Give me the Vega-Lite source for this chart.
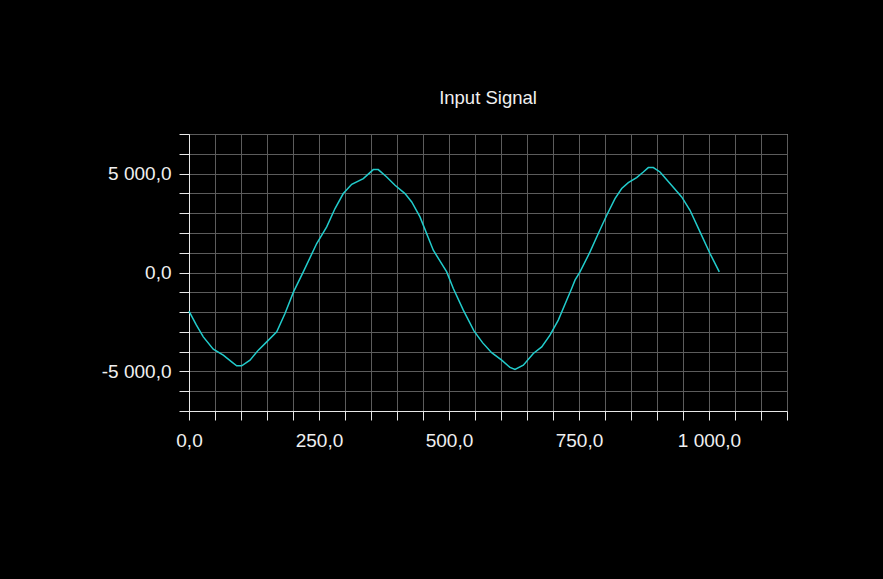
{
  "$schema": "https://vega.github.io/schema/vega-lite/v6.json",
  "width": 598,
  "height": 277,
  "autosize": "none",
  "padding": {"left": 189, "top": 134, "right": 96, "bottom": 168},
  "background": "#000000",
  "title": {"text": "Input Signal", "color": "#f0f0f0", "font": "Liberation Sans", "fontSize": 18.5, "fontWeight": "normal", "anchor": "middle", "frame": "group", "baseline": "alphabetic", "offset": 3},
  "config": {
    "locale": {"number": {"decimal": ",", "thousands": " ", "grouping": [3], "currency": ["", ""], "minus": "-"}},
    "view": {"stroke": "#e8e8e8", "strokeWidth": 1}
  },
  "data": {"values": [
    {"x": 0, "y": -1955}, {"x": 14, "y": -2650}, {"x": 27.5, "y": -3253}, {"x": 46.7, "y": -3874}, {"x": 65.9, "y": -4177},
    {"x": 82, "y": -4515}, {"x": 91.7, "y": -4717}, {"x": 101.3, "y": -4717}, {"x": 117.3, "y": -4429}, {"x": 133.3, "y": -3924},
    {"x": 149.4, "y": -3505}, {"x": 168.7, "y": -3000}, {"x": 184.6, "y": -2071}, {"x": 201, "y": -980}, {"x": 219.8, "y": 30},
    {"x": 245.6, "y": 1465}, {"x": 264.8, "y": 2303}, {"x": 280.8, "y": 3232}, {"x": 296.7, "y": 3990}, {"x": 312.9, "y": 4455},
    {"x": 335.2, "y": 4747}, {"x": 354.4, "y": 5202}, {"x": 364, "y": 5202}, {"x": 380.2, "y": 4828}, {"x": 396.2, "y": 4409},
    {"x": 415.4, "y": 3990}, {"x": 428.3, "y": 3566}, {"x": 444.2, "y": 2808}, {"x": 469.8, "y": 1126}, {"x": 495.6, "y": 30},
    {"x": 508.3, "y": -808}, {"x": 527.5, "y": -1904}, {"x": 548, "y": -2950}, {"x": 564.5, "y": -3545}, {"x": 582, "y": -4050},
    {"x": 601.3, "y": -4429}, {"x": 617.3, "y": -4798}, {"x": 626.9, "y": -4899}, {"x": 642.9, "y": -4682}, {"x": 662.1, "y": -4091},
    {"x": 678.3, "y": -3758}, {"x": 694.2, "y": -3167}, {"x": 710.2, "y": -2409}, {"x": 726.3, "y": -1399}, {"x": 735.9, "y": -808},
    {"x": 742.3, "y": -389}, {"x": 751.9, "y": 30}, {"x": 771.2, "y": 1040}, {"x": 787.1, "y": 1970}, {"x": 803.3, "y": 2894},
    {"x": 819.2, "y": 3737}, {"x": 832.1, "y": 4242}, {"x": 844.8, "y": 4545}, {"x": 860.9, "y": 4798}, {"x": 873.7, "y": 5081},
    {"x": 883.3, "y": 5303}, {"x": 892.9, "y": 5303}, {"x": 905.8, "y": 5081}, {"x": 925, "y": 4495}, {"x": 947.5, "y": 3818},
    {"x": 963.5, "y": 3146}, {"x": 982.7, "y": 2051}, {"x": 1001.9, "y": 960}, {"x": 1019.8, "y": 30}
  ]},
  "mark": {"type": "line", "color": "#22cccc", "strokeWidth": 1.5, "interpolate": "linear"},
  "encoding": {
    "x": {
      "field": "x", "type": "quantitative",
      "scale": {"domain": [0, 1150], "nice": false, "zero": false},
      "axis": {
        "title": null,
        "values": [0, 50, 100, 150, 200, 250, 300, 350, 400, 450, 500, 550, 600, 650, 700, 750, 800, 850, 900, 950, 1000, 1050, 1100, 1150],
        "labelExpr": "(datum.value % 250 === 0 && datum.value <= 1000) ? format(datum.value, ',.1f') : ''",
        "labelOverlap": false, "labelFlush": false,
        "labelFont": "Liberation Sans", "labelFontSize": 19, "labelColor": "#f0f0f0", "labelPadding": 11,
        "domainColor": "#e8e8e8", "tickColor": "#e8e8e8", "tickSize": 9,
        "gridColor": "#5c5c5c", "gridOpacity": 1
      }
    },
    "y": {
      "field": "y", "type": "quantitative",
      "scale": {"domain": [-7000, 7000], "nice": false, "zero": false},
      "axis": {
        "title": null,
        "values": [-7000, -6000, -5000, -4000, -3000, -2000, -1000, 0, 1000, 2000, 3000, 4000, 5000, 6000, 7000],
        "labelExpr": "(datum.value % 5000 === 0) ? format(datum.value, ',.1f') : ''",
        "labelOverlap": false, "labelFlush": false,
        "labelFont": "Liberation Sans", "labelFontSize": 19, "labelColor": "#f0f0f0", "labelPadding": 8,
        "domainColor": "#e8e8e8", "tickColor": "#e8e8e8", "tickSize": 10,
        "gridColor": "#5c5c5c", "gridOpacity": 1
      }
    }
  }
}
